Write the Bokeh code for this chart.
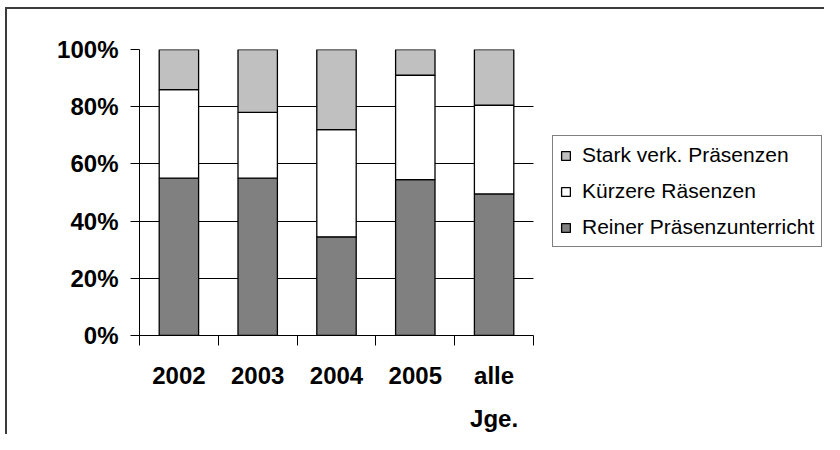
from bokeh.plotting import figure
from bokeh.models import (Range1d, LinearAxis, FixedTicker, Grid,
                          PrintfTickFormatter, Legend, LegendItem, ColumnDataSource)
from bokeh.embed import file_html
from bokeh.resources import INLINE

# ---- data ----
categories = ["2002", "2003", "2004", "2005", "alle\nJge."]
reiner = [55, 55, 34.5, 54.5, 49.5]
kuerzere = [31, 23, 37.5, 36.5, 31]
stark = [14, 22, 28, 9, 19.5]
series_keys = ["reiner", "kuerzere", "stark"]
series_names = ["Reiner Präsenzunterricht", "Kürzere Räsenzen", "Stark verk. Präsenzen"]
series_colors = ["#808080", "#ffffff", "#c0c0c0"]
y_ticks = [0, 20, 40, 60, 80, 100]

FONT = "Liberation Sans"

n = len(categories)
centers = [i + 0.5 for i in range(n)]      # category slot centres
bounds = list(range(n + 1))                 # category slot boundaries

# layout: the frame spans the chart area plus room on the right for the legend;
# grid and axis are bounded to the category slots
W, H = 824, 434
LEFT, TOP, BOTTOM = 139, 49, 99
SLOT_PX = 394 / n                           # width of one category slot in px
x_end = (W - LEFT) / SLOT_PX

src = ColumnDataSource(dict(x=centers, reiner=reiner, kuerzere=kuerzere, stark=stark))

p = figure(width=W, height=H,
           x_range=Range1d(0, x_end), y_range=Range1d(0, 100),
           x_axis_location=None,
           output_backend="svg", toolbar_location=None,
           min_border_left=LEFT, min_border_right=0, min_border_top=TOP, min_border_bottom=BOTTOM)

p.outline_line_color = None
p.background_fill_color = "white"
p.border_fill_alpha = 0
p.styles = {"box-shadow": "inset 5px 7px 0 0 white, inset 7px 9px 0 0 #3c3c3c",
            "background-color": "white"}

# y axis
yt = FixedTicker(ticks=y_ticks)
p.yaxis.ticker = yt
p.ygrid.ticker = yt
p.yaxis.formatter = PrintfTickFormatter(format="%d%%")
p.yaxis.major_tick_out = 9
p.yaxis.major_tick_in = 0
p.yaxis.minor_tick_out = 0
p.yaxis.minor_tick_in = 0
p.yaxis.axis_line_color = "black"
p.yaxis.major_tick_line_color = "black"
p.yaxis.major_label_standoff = 12
p.yaxis.major_label_text_font = FONT
p.yaxis.major_label_text_font_style = "bold"
p.yaxis.major_label_text_font_size = "24px"
p.yaxis.major_label_text_color = "black"
p.xgrid.visible = False

if "cross_bounds" in Grid.properties():
    p.ygrid.grid_line_color = "black"
    p.ygrid.grid_line_width = 1
    p.ygrid.cross_bounds = (0, n)
else:
    p.ygrid.visible = False
    p.segment(x0=[0] * len(y_ticks), x1=[n] * len(y_ticks), y0=y_ticks, y1=y_ticks,
              line_color="black", line_width=1)

renderers = p.vbar_stack(series_keys, x="x", width=0.5, source=src,
                         fill_color=series_colors, line_color="black", line_width=1.3)

# x axis: boundary ticks (no labels) + centred category labels (no ticks)
tick_axis = LinearAxis(ticker=FixedTicker(ticks=bounds), bounds=(0, n),
                       major_tick_out=10, major_tick_in=0, minor_tick_out=0, minor_tick_in=0,
                       major_label_text_font_size="0px", major_label_standoff=0,
                       major_label_overrides={b: "" for b in bounds},
                       axis_line_color="black", major_tick_line_color="black")
label_axis = LinearAxis(ticker=FixedTicker(ticks=centers), bounds=(0, n),
                        major_tick_out=0, major_tick_in=0, minor_tick_out=0, minor_tick_in=0,
                        axis_line_color=None, major_tick_line_color=None,
                        major_label_standoff=16,
                        major_label_text_font=FONT, major_label_text_font_style="bold",
                        major_label_text_font_size="24px", major_label_text_color="black",
                        major_label_text_line_height=1.6,
                        major_label_overrides=dict(zip(centers, categories)))
p.add_layout(tick_axis, "below")
p.add_layout(label_axis, "below")

# legend
items = [LegendItem(label=series_names[i], renderers=[renderers[i]]) for i in (2, 1, 0)]
legend = Legend(items=items, location=(413, 88), margin=0, padding=7, spacing=12,
                glyph_width=11, glyph_height=11, label_standoff=11, label_height=24,
                label_text_font=FONT, label_text_font_size="21px", label_text_color="black",
                border_line_color="black", border_line_width=1,
                background_fill_color="white", background_fill_alpha=1)
p.add_layout(legend, "center")

open("out.html", "w").write(file_html(p, INLINE))
